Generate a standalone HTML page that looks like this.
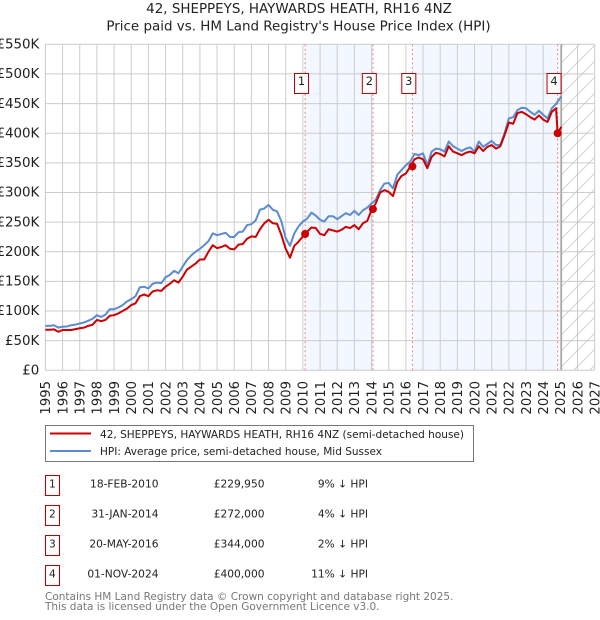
<!DOCTYPE html>
<html lang="en">
<head>
<meta charset="utf-8">
<title>42, SHEPPEYS, HAYWARDS HEATH price paid vs. HPI</title>
<style>
html,body{margin:0;padding:0;background:#fff}
#chart{display:block;width:600px;height:620px}
text{font-family:"DejaVu Sans","Liberation Sans",sans-serif}
</style>
</head>
<body>
<svg id="chart" xmlns="http://www.w3.org/2000/svg" width="600" height="620" viewBox="0 0 600 620">
<defs>
<pattern id="hatch" patternUnits="userSpaceOnUse" width="16" height="16">
<path d="M-4 4L4 -4M0 16L16 0M12 20L20 12" stroke="#d2d2d2" stroke-width="1" fill="none"/>
</pattern>
</defs>
<text x="299" y="13" text-anchor="middle" font-size="13.45" fill="#222">42, SHEPPEYS, HAYWARDS HEATH, RH16 4NZ</text>
<text x="298.5" y="30.5" text-anchor="middle" font-size="13.45" fill="#222">Price paid vs. HM Land Registry's House Price Index (HPI)</text>
<g id="plot"></g>
<g>
<rect x="45.5" y="425.5" width="428" height="36" fill="#fff" stroke="#777" stroke-width="1"/>
<line x1="50" x2="91" y1="433.5" y2="433.5" stroke="#cc0000" stroke-width="2"/>
<line x1="50" x2="91" y1="451" y2="451" stroke="#5b8bd0" stroke-width="2"/>
<text x="100" y="438" font-size="10.53" fill="#222">42, SHEPPEYS, HAYWARDS HEATH, RH16 4NZ (semi-detached house)</text>
<text x="100" y="455" font-size="10.5" fill="#222">HPI: Average price, semi-detached house, Mid Sussex</text>
</g>
<g id="table"></g>
<text x="45" y="600" font-size="10.5" fill="#777">Contains HM Land Registry data © Crown copyright and database right 2025.</text>
<text x="45" y="610" font-size="10.5" fill="#777">This data is licensed under the Open Government Licence v3.0.</text>
</svg>
<script>
const startYear = 1995;
const endYear = 2027;
const stepPerYear = 4;
const lastDataYear = 2025.06;
const yTicks = [0,50,100,150,200,250,300,350,400,450,500,550];
const yTickLabels = ['£0','£50K','£100K','£150K','£200K','£250K','£300K','£350K','£400K','£450K','£500K','£550K'];
const xTicks = [1995,1996,1997,1998,1999,2000,2001,2002,2003,2004,2005,2006,2007,2008,2009,2010,2011,2012,2013,2014,2015,2016,2017,2018,2019,2020,2021,2022,2023,2024,2025,2026,2027];
const hpiValues = [
75,75,76,72, 73.5,74,76,77, 79,80.6,83.7,87, 93,90,94,103,
103,106,110,116, 120,125,140,141, 138,146,148,147, 157,161,168,163.5,
175,186,194,200, 205,211,218,231, 228,230,232,225, 225,233,234,245,
246.5,253,271,273, 279,271,268,251, 223,210,231,243, 251,256,266,261,
254,251,260,260, 255,260,265,262, 269,262,270,274.5, 281.5,288,304,315,
316,307,330,338, 346,352,365,363, 366,346,369,374, 373,369,386,378,
374,370,374,376, 369,386,377,382, 387,380,380,400, 425,427,439,443,
442,436,431,438, 431,425,442,449.5, 460];
const hpiTailDates = [2025.06];
const hpiTailValues = [462];
const priceValues = [
68.5,68.5,69,65, 68,68,68,69.5, 71,72,75,77, 85,83,85,92,
93,96,100,104, 110,113,125,128, 125,133,135,134, 141,146,152,148,
158,170,175,180, 187,187,200,211, 206,208,211,205, 204,212,213,222,
226,225,238,248, 254,248,247,228, 205,190,210,217, 226,234,241,240,
230,228,238,236, 234,237,242,240, 245,238,248,252, 270.5,282,300,304,
301,294,318,328, 332,343.5,356,359, 356,341,360,367, 365,361,378,369,
366,363,367,369, 366,378,370,377, 380,374,378,397, 418,416,434,436,
432,427,423,430, 423,419,436,442];
const priceTailDates = [2024.84,2025.06];
const priceTailValues = [400,411];
const saleIds = ['1','2','3','4'];
const saleDates = [2010.13,2014.08,2016.38,2024.84];
const salePrices = [229.95,272,344,400];
const saleDateLabels = ['18-FEB-2010','31-JAN-2014','20-MAY-2016','01-NOV-2024'];
const salePriceLabels = ['£229,950','£272,000','£344,000','£400,000'];
const saleDiffLabels = ['9% ↓ HPI','4% ↓ HPI','2% ↓ HPI','11% ↓ HPI'];

const SVGNS = 'http://www.w3.org/2000/svg';
const plotLeft = 45.4, plotRight = 594.7, plotTop = 44.3, plotBottom = 370.3, yMax = 550;
function xScale(year){ return plotLeft + (year - startYear) / (endYear - startYear) * (plotRight - plotLeft); }
function yScale(value){ return plotBottom - value / yMax * (plotBottom - plotTop); }
function make(tag, parent, attrs){
  const el = document.createElementNS(SVGNS, tag);
  for (const k in attrs) el.setAttribute(k, attrs[k]);
  parent.appendChild(el);
  return el;
}
const plot = document.getElementById('plot');
const table = document.getElementById('table');

// shaded ownership bands
[[0,1],[2,3]].forEach(function(pair){
  const band = make('rect', plot, {x:xScale(saleDates[pair[0]]), y:plotTop, width:xScale(saleDates[pair[1]])-xScale(saleDates[pair[0]]), height:plotBottom-plotTop, fill:'#f3f7ff'});
  
  
});
const hatch = make('rect', plot, {x:xScale(lastDataYear), y:plotTop, width:plotRight-xScale(lastDataYear), height:plotBottom-plotTop, fill:'url(#hatch)'});



// grid and ticks
yTicks.forEach(function(t, i){
  const g = make('line', plot, {x1:plotLeft, x2:plotRight, y1:yScale(t), y2:yScale(t), stroke:'#ccc', 'stroke-width':1});
  
  
  const l = make('text', plot, {x:39.3, y:yScale(t)+4.2, 'text-anchor':'end', 'font-size':13.4, fill:'#222'});
  l.textContent = yTickLabels[i];
  
  
});
xTicks.forEach(function(t){
  const g = make('line', plot, {x1:xScale(t), x2:xScale(t), y1:plotTop, y2:plotBottom, stroke:'#ccc', 'stroke-width':1});
  
  
  const lx = xScale(t)+4.8, ly = 381;
  const l = make('text', plot, {x:lx, y:ly, 'text-anchor':'end', 'font-size':13.2, fill:'#222', transform:'rotate(-90 '+lx+' '+ly+')'});
  l.textContent = String(t);
  
  
});
const endLine = make('line', plot, {x1:xScale(lastDataYear), x2:xScale(lastDataYear), y1:plotTop, y2:plotBottom, stroke:'#aaa', 'stroke-width':1.5});



// sale date lines
saleDates.forEach(function(d){
  const l = make('line', plot, {x1:xScale(d), x2:xScale(d), y1:plotTop, y2:plotBottom, stroke:'#e8808a', 'stroke-width':1, 'stroke-dasharray':'2 2.5'});
  
  
});

// series
function seriesPoints(values, tailDates, tailValues){
  const pts = values.map(function(v, i){ return [startYear + i / stepPerYear, v]; });
  tailDates.forEach(function(d, i){ pts.push([d, tailValues[i]]); });
  return pts.map(function(p){ return xScale(p[0]).toFixed(2)+','+yScale(p[1]).toFixed(2); }).join(' ');
}
const hpiLine = make('polyline', plot, {points:seriesPoints(hpiValues, hpiTailDates, hpiTailValues), fill:'none', stroke:'#5b8bd0', 'stroke-width':2, 'stroke-linejoin':'round'});


const priceLine = make('polyline', plot, {points:seriesPoints(priceValues, priceTailDates, priceTailValues), fill:'none', stroke:'#cc0000', 'stroke-width':2, 'stroke-linejoin':'round'});



// sale markers and number boxes
saleDates.forEach(function(d, i){
  const m = make('circle', plot, {cx:xScale(d), cy:yScale(salePrices[i]), r:4, fill:'#cc0000'});
  
  
  const bx = xScale(d) - 10.6;
  const b = make('rect', plot, {x:bx, y:73.5, width:14, height:20, fill:'#fff', stroke:'#bb0000', 'stroke-width':1});
  
  
  const t = make('text', plot, {x:bx+7, y:85.2, 'text-anchor':'middle', 'font-size':11.4, fill:'#222'});
  t.textContent = saleIds[i];
  
  
});

// table
saleIds.forEach(function(id, i){
  const top = 475.5 + i * 30;
  const base = top + 12;
  const b = make('rect', table, {x:45.5, y:top, width:14, height:20, fill:'#fff', stroke:'#bb0000', 'stroke-width':1});
  
  
  const n = make('text', table, {x:52.4, y:base, 'text-anchor':'middle', 'font-size':10.65, fill:'#222'});
  n.textContent = id;
  
  
  const a = make('text', table, {x:158.5, y:base, 'text-anchor':'end', 'font-size':10.65, fill:'#222'});
  a.textContent = saleDateLabels[i];
  
  
  const p = make('text', table, {x:264.5, y:base, 'text-anchor':'end', 'font-size':10.65, fill:'#222'});
  p.textContent = salePriceLabels[i];
  
  
  const h = make('text', table, {x:368, y:base, 'text-anchor':'end', 'font-size':10.65, fill:'#222'});
  h.textContent = saleDiffLabels[i];
  
  
});
</script>
</body>
</html>
